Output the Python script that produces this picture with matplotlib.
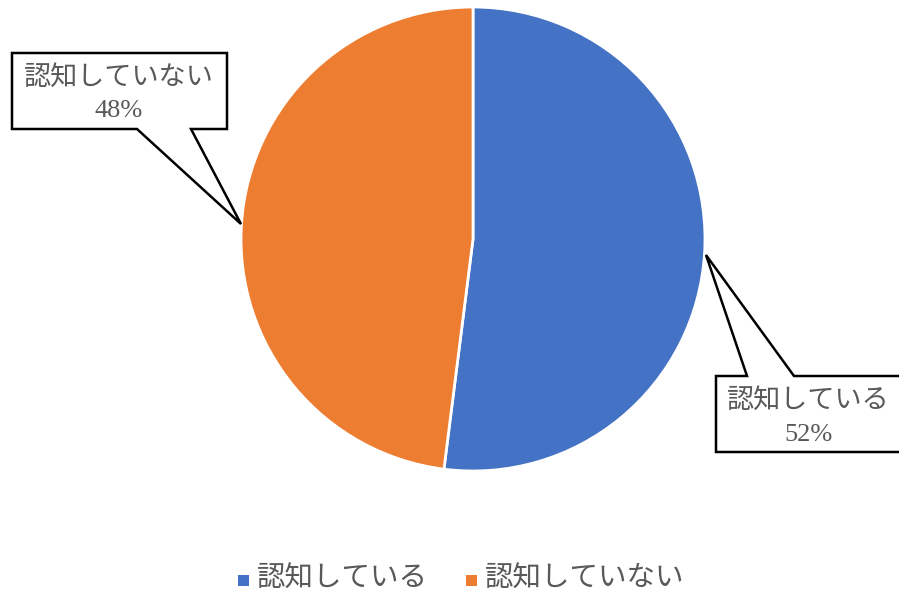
import matplotlib
matplotlib.use("Agg")
import matplotlib.pyplot as plt
from matplotlib.patches import Polygon, Rectangle

categories = ["認知している", "認知していない"]
values = [52, 48]
colors = ["#4472C4", "#ED7D31"]
pct_labels = ["52%", "48%"]

W, H = 899, 594
fig = plt.figure(figsize=(W / 100, H / 100), dpi=100)
ax = fig.add_axes([0, 0, 1, 1])
ax.set_xlim(0, W)
ax.set_ylim(0, H)
ax.set_aspect("equal")
ax.axis("off")

def Y(y):
    return H - y

cx, cy, r = 473, 239, 232
wedges, _ = ax.pie(values, colors=colors, startangle=90, counterclock=False,
                   center=(cx, Y(cy)), radius=r,
                   wedgeprops=dict(edgecolor="white", linewidth=2))
ax.set_xlim(0, W)
ax.set_ylim(0, H)

jp = ["Noto Sans CJK JP", "DejaVu Sans"]
serif = ["Liberation Serif", "DejaVu Serif"]
gray = "#595959"

# left callout (認知していない)
left_pts = [(12, 53), (227, 53), (227, 129), (191, 129), (241, 224), (137, 129), (12, 129)]
ax.add_patch(Polygon([(x, Y(y)) for x, y in left_pts], closed=True,
                     facecolor="white", edgecolor="black", linewidth=1.8, zorder=5))
ax.text(119, Y(77), categories[1], family=jp, fontsize=19.5, color=gray,
        ha="center", va="center", zorder=6)
ax.text(119, Y(111), pct_labels[1], family=serif, fontsize=19, color=gray,
        ha="center", va="center", zorder=6)

# right callout (認知している)
right_pts = [(716, 376), (747, 376), (706, 255), (794, 376), (910, 376), (910, 452), (716, 452)]
ax.add_patch(Polygon([(x, Y(y)) for x, y in right_pts], closed=True,
                     facecolor="white", edgecolor="black", linewidth=1.8, zorder=5,
                     clip_on=True))
ax.text(808, Y(400), categories[0], family=jp, fontsize=19.5, color=gray,
        ha="center", va="center", zorder=6)
ax.text(808, Y(435), pct_labels[0], family=serif, fontsize=19, color=gray,
        ha="center", va="center", zorder=6)

# legend
leg_x = [243, 471]
for lx, lab, col in zip(leg_x, categories, colors):
    ax.add_patch(Rectangle((lx - 5.5, Y(580) - 5.5), 11, 11, facecolor=col, edgecolor="none"))
    ax.text(lx + 14, Y(579), lab, family=jp, fontsize=20.5, color=gray,
            ha="left", va="center")

fig.savefig("out.png", dpi=100, facecolor="white")
